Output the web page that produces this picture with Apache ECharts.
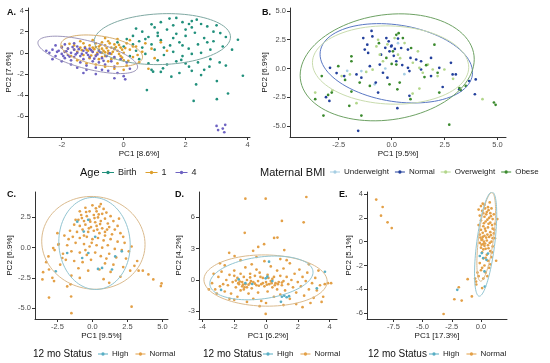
<!DOCTYPE html>
<html><head><meta charset="utf-8">
<script src="https://cdn.jsdelivr.net/npm/echarts@6/dist/echarts.min.js"></script>
<style>html,body{margin:0;padding:0;background:#fff}#c{width:550px;height:363px}</style>
</head><body><div id="c"></div>
<script>
// ---------- DATA ----------
// Panel A (Age)
const aBirth = [[1.48,3.24],[2.36,3.14],[2.11,2.73],[2.5,2.73],[3.12,1.87],[3.69,1.24],[3.85,-2.16],[3.37,-3.84],[3.01,-4.38],[3.01,-2.67],[2.26,-4.54],[0.75,-3.52],[2.34,-2.98],[2.5,-2.1],[2.77,-1.3],[2.11,-1.3],[1.86,-0.67],[0.95,-1.78],[1.27,-1.46],[1.54,-2.25],
[1.2,2.9],[1.6,2.6],[1.9,2.9],[2.2,2.4],[2.7,2.5],[2.9,2.0],[1.0,2.4],[0.6,2.0],[0.3,1.6],[0.1,1.3],[-0.2,1.0],[0.5,1.1],[0.8,1.5],[1.1,1.9],[1.4,2.2],[1.7,1.8],[2.0,1.6],[2.3,1.9],[2.6,1.4],[2.9,1.1],[3.2,0.6],[2.8,0.3],[2.4,0.8],[2.1,0.4],[1.8,1.0],[1.5,0.7],[1.2,1.2],[0.9,0.8],[0.6,0.5],[0.3,0.8],[0.0,0.6],[-0.3,0.4],[0.4,0.2],[0.7,-0.1],[1.0,0.3],[1.3,-0.2],[1.6,0.1],[1.9,-0.3],[2.2,-0.1],[2.5,0.0],[2.8,-0.6],[3.1,-0.9],[2.4,-0.9],[2.0,-1.0],[1.7,-0.8],[1.4,-1.1],[1.1,-0.7],[0.8,-1.0],[0.5,-0.6],[0.2,-0.3],[0.9,-1.6],[1.2,-1.8],[1.8,-1.9],[2.2,-1.7],[2.6,-1.6],[3.3,-1.2],[3.5,0.3],[3.0,2.6],[2.2,3.0],[1.7,3.3],[0.9,2.7],[0.4,2.3],[1.3,0.5],[1.6,1.4],[2.0,2.2],[1.1,1.6],[0.7,1.3],[1.9,0.7],[2.7,1.0],[3.3,1.5]];
const aOne = [[-1.8,0.4],[-1.6,0.7],[-1.5,0.1],[-1.4,0.5],[-1.3,0.9],[-1.3,-0.2],[-1.2,0.3],[-1.1,0.7],[-1.1,-0.5],[-1.0,0.1],[-1.0,0.5],[-0.9,0.9],[-0.9,-0.2],[-0.8,0.3],[-0.8,0.6],[-0.8,-0.6],[-0.7,0.0],[-0.7,1.0],[-0.7,0.4],[-0.6,-0.3],[-0.6,0.7],[-0.5,0.2],[-0.5,-0.8],[-0.5,1.1],[-0.4,0.5],[-0.4,-0.1],[-0.3,0.8],[-0.3,-0.5],[-0.2,0.2],[-0.2,-1.0],[-0.1,0.5],[-0.1,-0.3],[0.0,0.0],[0.0,-0.7],[0.1,0.9],[0.1,-1.2],[0.2,0.3],[0.3,-0.4],[0.4,0.6],[0.5,-0.9],[0.6,0.1],[-1.7,-0.3],[-1.5,-0.7],[-1.2,-1.0],[-0.9,-1.1],[-0.6,-1.3],[-0.3,-1.5],[0.0,-1.6],[-1.9,0.1],[-2.0,0.6],[-1.4,1.1],[-1.0,1.2],[-0.6,1.4],[-0.2,1.3],[0.2,1.2],[0.7,0.9],[0.9,0.4],[1.0,-0.5],[1.2,1.0],[0.8,-1.5],[1.4,0.2],[-1.15,0.2],[-0.95,0.35],[-0.85,0.0],[-0.75,0.75],[-0.65,0.2],[-0.55,0.45],[-0.45,0.9],[-0.35,0.1],[-0.25,0.55],[-0.15,-0.1],[-0.05,0.3],[-1.25,0.55],[-1.35,0.25],[-1.05,-0.25],[-0.9,0.55],[-0.7,-0.4],[-0.4,-0.6],[-0.6,0.05],[-0.3,0.35],[0.3,0.6],[0.05,0.45],[-0.15,0.75],[-0.5,-0.05],[-1.6,0.3],[-1.75,0.85],[0.45,-0.2],[0.15,-0.75],[-0.05,-0.45]];
const aFour = [[-2.4,0.0],[-2.3,0.3],[-2.2,-0.3],[-2.1,0.2],[-2.0,-0.1],[-2.0,0.5],[-1.9,-0.5],[-1.9,0.1],[-1.8,0.4],[-1.8,-0.2],[-1.7,0.0],[-1.7,-0.7],[-1.6,0.3],[-1.6,-0.4],[-1.5,0.0],[-1.5,0.6],[-1.4,-0.3],[-1.4,-0.9],[-1.3,0.2],[-1.3,-0.6],[-1.2,0.0],[-1.2,-1.2],[-1.1,0.4],[-1.1,-0.4],[-1.0,-0.8],[-1.0,0.1],[-0.9,-0.3],[-0.9,-1.4],[-0.8,0.2],[-0.8,-0.9],[-0.7,-0.5],[-0.6,-1.1],[-0.5,-1.7],[-0.4,-0.8],[-0.3,-1.3],[-0.2,-1.9],[0.0,-2.2],[0.2,-1.5],[-2.2,0.7],[-1.9,0.8],[-1.6,0.9],[-2.3,-0.6],[-2.0,-0.8],[-1.7,-1.1],[-1.5,-1.4],[-1.2,-1.6],[-0.9,-2.0],[-1.85,0.15],[-1.75,-0.35],[-1.65,0.55],[-1.55,-0.15],[-1.45,0.35],[-1.35,-0.1],[-1.25,0.45],[-1.15,-0.2],[-1.05,0.25],[-0.95,-0.55],[-0.85,-0.15],[-0.75,0.05],[-0.65,-0.75],[-0.55,-0.3],[-0.45,-0.05],[-1.95,-0.3],[-2.15,0.1],[-2.5,0.2],[-0.3,-0.4],[0.1,-0.9],[-0.1,-0.6],[-1.3,-1.9],[-0.7,-1.6],[3.0,-6.9],[3.05,-7.3],[3.2,-7.15],[3.28,-6.8],[3.25,-7.5],[0.05,-2.5],[-0.3,-2.4]];
// Panel B (Maternal BMI)
const bUnder = [[-1.43,-0.23],[-0.8,-1.38],[0.3,2.2],[-2.1,-0.2],[0.6,-0.5],[-0.3,0.0]];
const bNormal = [[-0.95,3.27],[-0.91,2.79],[-1.34,2.64],[-1.15,2.07],[-1.27,1.64],[-1.11,1.35],[-0.14,2.36],[-0.02,1.92],[-0.1,1.49],[-0.25,2.64],[-2.91,0.06],[-2.24,-0.66],[-1.66,-0.52],[-1.43,-0.8],[-1.03,0.2],[-0.75,-1.23],[-0.64,-2.1],[-2.94,-2.82],[-1.58,-5.42],[-0.41,-0.37],[-0.56,0.34],[0.22,0.63],[0.45,1.78],[0.77,1.64],[0.89,0.92],[1.16,0.78],[1.39,0.63],[0.77,0.06],[0.84,-0.23],[1.86,0.92],[2.25,0.06],[2.8,0.49],[2.88,-0.52],[3.03,-0.52],[3.19,-1.81],[3.66,-1.09],[3.97,-0.95],[3.93,-2.24],[2.41,-1.61],[0.84,-2.38],[0.27,-3.45],[1.39,-0.09],[1.86,-0.66],[0.0,2.0],[0.15,1.7],[-0.3,1.8],[0.3,2.6],[-0.5,1.2],[0.1,1.1],[-3.1,-2.5],[-2.6,-0.4],[-0.2,-0.8],[0.5,0.3]];
const bOver = [[-3.61,-2.1],[-2.36,-0.66],[-1.97,-0.52],[-0.72,1.92],[-0.56,1.2],[-0.41,0.63],[-1.66,-3.02],[0.14,2.64],[-0.64,2.5],[0.61,2.21],[1.24,1.49],[1.71,0.34],[1.94,-0.09],[2.17,-0.66],[1.31,0.06],[1.47,-0.37],[1.31,-1.75],[0.99,-2.18],[4.29,-2.67],[2.49,-0.09],[0.3,1.2],[-0.2,2.1],[0.4,0.9],[-1.2,-0.3],[-2.8,-1.9],[1.0,0.5],[2.9,-0.9],[-0.9,-0.1]];
const bObese = [[-3.3,-0.66],[-3.61,-2.67],[-3.22,-4.1],[-2.83,-2.1],[-2.52,0.2],[-1.9,1.06],[-1.9,0.63],[-1.51,-1.23],[-1.03,-1.52],[-2.0,-3.25],[-1.43,-4.1],[0.22,2.93],[0.06,1.49],[-0.25,0.92],[-1.9,-2.01],[-0.1,-1.38],[0.33,3.07],[0.53,2.64],[2.02,2.07],[0.92,1.78],[1.63,0.29],[2.17,-0.37],[0.38,-1.23],[0.27,-1.81],[0.89,-2.67],[2.25,-2.1],[3.27,-1.9],[3.5,-1.52],[2.72,-4.89],[4.83,-2.96],[4.91,-3.16],[1.55,-0.75],[0.22,0.34],[-0.6,2.2],[0.0,0.4],[-2.2,-1.0],[-3.0,-2.3],[3.2,-1.7]];
// Panel C (12 mo Status)
const cNormal = [[-0.5,3.3],[0.0,3.5],[0.5,3.4],[0.8,3.2],[-0.2,3.0],[0.3,3.0],[0.7,2.8],[1.0,2.9],[-0.8,2.7],[-0.4,2.6],[0.1,2.7],[0.4,2.5],[0.9,2.4],[1.3,2.6],[-1.0,2.3],[-0.6,2.2],[-0.2,2.3],[0.2,2.1],[0.6,2.2],[1.1,2.0],[1.5,2.2],[-1.3,1.9],[-0.9,1.8],[-0.5,1.9],[-0.1,1.7],[0.3,1.8],[0.7,1.6],[1.2,1.7],[1.8,1.8],[-1.6,1.4],[-1.1,1.3],[-0.7,1.5],[-0.3,1.3],[0.1,1.4],[0.5,1.2],[0.9,1.3],[1.4,1.1],[2.0,1.2],[-2.0,1.0],[-1.4,0.9],[-0.9,0.8],[-0.4,0.9],[0.0,0.7],[0.4,0.8],[0.8,0.6],[1.3,0.7],[1.8,0.5],[2.3,0.4],[-2.4,0.3],[-1.8,0.2],[-1.2,0.4],[-0.6,0.3],[-0.2,0.1],[0.3,0.2],[0.7,0.0],[1.1,0.2],[1.6,-0.1],[2.1,-0.2],[2.6,-0.3],[-2.7,-0.2],[-2.1,-0.5],[-1.5,-0.3],[-0.9,-0.4],[-0.4,-0.6],[0.2,-0.4],[0.6,-0.7],[1.2,-0.5],[1.7,-0.8],[2.4,-0.9],[-1.9,-1.0],[-1.3,-1.1],[-0.7,-1.2],[-0.1,-1.0],[0.9,-1.3],[1.5,-1.4],[2.2,-1.6],[-1.0,-1.7],[-0.3,-1.9],[0.5,-1.8],[1.3,-2.0],[2.7,-1.9],[3.0,-1.5],[3.3,-1.9],[-1.5,-2.3],[-0.9,-2.5],[0.8,-2.6],[1.2,-2.9],[-1.8,-3.2],[-1.56,-3.03],[-3.1,-4.12],[-1.52,-4.03],[-1.5,-5.41],[2.8,-4.87],[4.89,-3.17],[4.94,-2.95],[4.35,-2.62],[4.0,-2.21],[-3.57,-2.62],[-3.52,-2.02],[-3.1,-1.8],[-2.86,-2.49],[-2.74,-2.76],[-3.14,-0.72],[-2.8,-0.03],[-2.44,0.25],[-2.15,-0.85],[-2.5,1.2],[-0.45,2.95],[0.25,3.25],[0.15,2.45],[-0.15,2.15],[0.55,1.95],[0.45,2.75],[-0.75,2.45],[1.6,1.5],[2.2,0.9],[2.8,0.1],[3.2,-1.1],[3.6,-1.9],[-0.05,0.4],[0.9,1.0],[-1.7,0.7],[-2.3,-1.4],[-0.5,-0.2],[1.0,-0.9],[-3.3,-1.2],[2.0,-2.4],[-0.6,1.0],[0.35,1.5],[1.05,1.5],[-0.25,1.6],[-1.2,2.3],[1.9,2.4],[-0.9,3.0],[0.6,3.6]];
const cHigh = [[-1.08,2.15],[-0.29,-0.44],[-0.73,-0.85],[0.4,-1.75],[1.4,-1.8],[-1.8,-0.44],[0.69,-1.67],[2.1,-0.3],[1.63,-0.72],[-0.62,1.33],[-2.62,-1.95],[-0.3,2.3],[0.2,0.9]];
// Panel D (12 mo Status)
const dNormal = [[-1.3,7.78],[-0.02,7.78],[2.54,7.94],[1.0,5.65],[2.37,5.52],[-1.34,4.51],[0.51,4.03],[0.72,4.06],[-0.12,3.43],[-0.49,3.17],[-0.81,2.79],[1.15,2.86],[-2.32,2.6],[-1.98,2.29],[-0.02,-3.24],[-3.4,-0.3],[-3.2,-0.9],[-3.0,0.3],[-2.9,-0.6],[-2.8,0.8],[-2.6,-1.1],[-2.5,0.0],[-2.4,-0.5],[-2.3,0.5],[-2.2,-1.3],[-2.1,-0.2],[-2.0,0.9],[-1.9,-0.7],[-1.8,0.2],[-1.8,-1.6],[-1.7,-0.4],[-1.6,0.6],[-1.6,-1.0],[-1.5,-0.2],[-1.5,-0.6],[-1.4,0.3],[-1.4,-0.9],[-1.3,-0.4],[-1.3,1.2],[-1.2,-0.7],[-1.2,0.0],[-1.1,-1.3],[-1.0,-0.3],[-1.0,0.6],[-0.9,-0.8],[-0.9,1.5],[-0.8,-0.2],[-0.8,-1.8],[-0.7,0.4],[-0.6,-0.5],[-0.6,1.0],[-0.5,-0.1],[-0.5,-1.2],[-0.4,0.7],[-0.3,-0.4],[-0.3,-2.0],[-0.2,0.2],[-0.1,-0.6],[-0.1,1.8],[0.0,-0.2],[0.1,0.5],[0.1,-1.1],[0.2,-0.4],[0.3,1.3],[0.3,-0.1],[0.4,-0.7],[0.5,0.3],[0.5,-1.6],[0.6,-0.3],[0.7,0.9],[0.7,-0.9],[0.8,-0.2],[0.9,0.4],[0.9,-1.4],[1.0,-0.5],[1.1,1.1],[1.1,-0.1],[1.2,-1.0],[1.3,0.3],[1.4,-0.4],[1.5,1.6],[1.5,-1.8],[1.6,0.0],[1.7,-0.7],[1.8,0.6],[1.9,-1.2],[2.0,-0.2],[2.1,1.0],[2.2,-0.6],[2.3,0.3],[2.4,-1.5],[2.5,-0.1],[2.6,0.7],[2.7,-0.9],[2.9,-0.3],[3.0,-1.7],[3.1,0.2],[3.2,-1.0],[3.4,-0.5],[3.6,-1.6],[3.7,-0.4],[3.9,-0.3],[4.1,-0.3],[3.5,-2.1],[2.8,-2.2],[1.9,-2.3],[0.0,-2.2],[-1.2,-2.1],[-2.3,-1.8],[-3.1,-1.3],[-3.3,0.6],[-2.6,1.4],[-1.6,1.9],[-1.9,-0.05],[-1.75,-0.3],[-1.65,-0.15],[-1.45,-0.45],[-1.35,-0.7],[-1.1,-0.45],[-0.95,-0.1],[-0.7,-0.35],[-0.45,-0.55],[-0.2,-0.3],[0.05,-0.45],[0.35,-0.3],[0.55,-0.5],[0.75,-0.4],[1.0,-0.25],[0.4,0.1],[0.15,0.2],[-0.35,0.3],[-1.0,0.25],[-2.0,0.4],[-2.7,-0.4],[1.3,1.9],[2.7,1.5],[3.3,0.9],[-0.6,2.2],[0.9,2.0],[-2.9,1.6],[-3.6,-0.9],[-2.0,-1.9],[-0.4,-2.5],[1.1,-2.4],[2.3,-2.6]];
const dHigh = [[0.19,1.75],[-0.02,0.16],[0.08,0.32],[-0.87,-0.38],[-1.72,0.06],[3.71,0.79],[0.94,-2.09],[-2.83,-0.95],[1.0,-1.6],[1.15,-1.5],[1.3,-1.65],[1.45,-1.55],[0.4,-0.1],[-1.3,-0.3],[3.2,-0.8]];
// Panel E (12 mo Status)
const eNormal = [[-8.97,3.54],[-8.42,2.92],[-8.56,2.19],[-8.0,1.63],[-7.64,1.15],[-3.2,-6.08],[-2.28,-4.84],[-1.65,-4.95],[-1.9,-3.83],[-1.14,-3.15],[-0.78,-4.6],[-0.42,-3.35],[0.0,3.0],[0.3,3.1],[0.6,2.9],[0.9,2.8],[0.1,2.6],[0.5,2.5],[0.8,2.4],[1.1,2.3],[-0.1,2.2],[0.3,2.1],[0.7,2.0],[1.0,1.9],[0.0,1.8],[0.4,1.7],[0.8,1.6],[1.2,1.5],[-0.2,1.4],[0.2,1.3],[0.6,1.2],[1.0,1.1],[0.0,1.0],[0.4,0.9],[0.8,0.8],[1.1,0.7],[-0.1,0.6],[0.3,0.5],[0.7,0.4],[1.0,0.3],[0.1,0.2],[0.5,0.1],[0.9,0.0],[-0.1,-0.1],[0.2,-0.2],[0.6,-0.3],[1.0,-0.4],[0.0,-0.5],[0.4,-0.6],[0.8,-0.8],[0.1,-0.9],[0.5,-1.1],[0.9,-1.3],[0.2,-1.4],[0.6,-1.6],[-0.1,-1.8],[0.3,-2.0],[0.7,-2.2],[0.0,-2.4],[0.4,-2.6],[-0.2,-2.9],[0.2,-3.1],[-0.4,-3.6],[0.1,-3.9],[0.15,0.4],[0.25,0.0],[0.35,-0.15],[0.05,0.15],[0.45,0.35],[0.55,0.6],[0.15,0.75],[0.35,1.1],[0.65,1.5],[0.25,1.55],[0.55,1.85],[0.85,2.15],[0.45,2.3],[0.2,2.4],[0.65,2.65],[0.35,2.8],[0.15,3.2],[0.75,3.3],[0.95,1.4],[1.15,1.0],[0.85,0.55],[0.75,-0.1],[0.95,-0.9],[0.3,-0.35],[0.05,-0.25],[-0.05,0.35],[0.2,-0.65],[0.65,-0.55],[0.4,-1.35],[0.8,-1.9],[0.1,-2.2],[-0.3,-2.6],[0.55,-2.9],[-0.5,-3.1],[1.2,0.3],[1.3,-1.6],[1.4,1.9],[-0.2,2.7]];
const eHigh = [[-2.03,-4.05],[0.33,-3.77],[0.19,-1.38],[0.47,-1.52],[0.07,-0.96],[0.6,-1.0],[-0.1,-1.2],[0.3,-2.5]];

// Ellipses: [centerX, centerY, halfWidthX, halfHeightY, tiltY]
const ellA = {Birth:[1.25,1.3,2.2,2.4,0.2], One:[-0.71,0.19,1.32,1.39,-0.57], Four:[-1.16,-0.19,1.61,1.35,-1.14]};
const ellB = {Normal:[0.22,0.45,3.6,3.36,-0.79], Over:[-0.05,0.3,3.69,3.4,-0.2], Obese:[-0.21,0.1,4.11,4.6,0.7]};
const ellC = {Normal:[0.07,0.4,3.69,3.83,-0.14], High:[0.15,0.35,2.55,3.8,-0.14]};
const ellD = {Normal:[-0.03,-0.05,3.88,2.45,-0.08], High:[-0.29,0.2,3.25,2.02,0.55]};
const ellE = {Normal:[0.45,0.4,0.8,3.0,2.2], High:[0.4,-0.2,0.95,3.6,2.5]};

// Tick values
const ticksAx = [-2,0,2,4], ticksAy = [-6,-4,-2,0,2,4];
const ticksBx = [-2.5,0,2.5,5], ticksBy = [-5,-2.5,0,2.5,5];
const ticksCx = [-2.5,0,2.5,5], ticksCy = [-5,-2.5,0,2.5];
const ticksDx = [-4,-2,0,2,4], ticksDy = [-3,0,3,6];
const ticksEx = [-7.5,-5,-2.5,0], ticksEy = [-6,-4,-2,0,2,4];

// ---------- CHART ----------
const FONT = 'Liberation Sans, Arial, sans-serif';
const col = {birth:'#21907c', one:'#dd9f2c', four:'#6e63c2',
  under:'#a6cee3', normal:'#23409c', over:'#b2d68a', obese:'#3b8a2e',
  high:'#58aec4', norm:'#e3a047'};
const ecol = {birth:'#7fa9a3', one:'#d6ae70', four:'#9d96bb', normal:'#5a78c4', over:'#c9dcae', obese:'#6ea264', high:'#92c5d2', norm:'#dbbb8e'};

const grids = [
  {left:28, top:8, width:222, height:129},
  {left:290, top:8, width:216, height:129},
  {left:35, top:192, width:133, height:127},
  {left:199, top:192, width:138, height:127},
  {left:367, top:192, width:140, height:127}
];
function f1(v){ return v.toFixed(1); }
function f0(v){ return String(v); }
function xAx(g, min, max, ticks, name, fmt){
  return {type:'value', gridIndex:g, min, max, name, nameLocation:'middle', nameGap:12,
    nameTextStyle:{fontSize:8, color:'#111', fontFamily:FONT},
    axisLine:{show:true, onZero:false, lineStyle:{color:'#333', width:1}},
    axisTick:{show:true, length:3, customValues:ticks, lineStyle:{color:'#333'}},
    axisLabel:{customValues:ticks, formatter:fmt, color:'#4d4d4d', fontSize:7.5, margin:4, fontFamily:FONT},
    splitLine:{show:false}};
}
function yAx(g, min, max, ticks, name, fmt, gap){
  return {type:'value', gridIndex:g, min, max, name, nameLocation:'middle', nameGap:gap,
    nameTextStyle:{fontSize:8, color:'#111', fontFamily:FONT},
    axisLine:{show:true, onZero:false, lineStyle:{color:'#333', width:1}},
    axisTick:{show:true, length:3, customValues:ticks, lineStyle:{color:'#333'}},
    axisLabel:{customValues:ticks, formatter:fmt, color:'#4d4d4d', fontSize:7.5, margin:4, fontFamily:FONT},
    splitLine:{show:false}};
}
const xAxis = [
  xAx(0,-3.09,4.08,ticksAx,'PC1 [8.6%]',f0),
  xAx(1,-4.8,5.4,ticksBx,'PC1 [9.5%]',f1),
  xAx(2,-4.1,5.4,ticksCx,'PC1 [9.5%]',f1),
  xAx(3,-4.22,4.47,ticksDx,'PC1 [6.2%]',f0),
  xAx(4,-9.76,2.23,ticksEx,'PC1 [17.3%]',f1)
];
const yAxis = [
  yAx(0,-7.95,4.24,ticksAy,'PC2 [7.6%]',f0,15),
  yAx(1,-5.96,5.26,ticksBy,'PC2 [6.9%]',f1,20),
  yAx(2,-5.89,4.6,ticksCy,'PC2 [6.9%]',f1,20),
  yAx(3,-3.73,8.42,ticksDy,'PC2 [4.2%]',f0,16),
  yAx(4,-6.5,4.18,ticksEy,'PC2 [5.1%]',f0,13)
];

function sc(name, g, data, color){
  return {type:'scatter', name, xAxisIndex:g, yAxisIndex:g, data, symbolSize:2.7,
    itemStyle:{color, opacity:1}, silent:true, animation:false};
}
function renderEllipse(params, api){
  const cx=api.value(0), cy=api.value(1), a=api.value(2), b=api.value(3), k=api.value(4);
  const pts=[];
  for(let i=0;i<=96;i++){
    const t=i/96*Math.PI*2;
    pts.push(api.coord([cx+a*Math.cos(t), cy+b*Math.sin(t)+k*Math.cos(t)]));
  }
  return {type:'polyline', shape:{points:pts}, style:{fill:null, stroke:api.visual('color'), lineWidth:1}};
}
function el(name, g, p, color){
  return {type:'custom', name, xAxisIndex:g, yAxisIndex:g, data:[p], renderItem:renderEllipse,
    itemStyle:{color}, clip:true, silent:true, animation:false, z:3};
}
const series = [
  sc('Birth',0,aBirth,col.birth), sc('1',0,aOne,col.one), sc('4',0,aFour,col.four),
  sc('Underweight',1,bUnder,col.under), sc('BMI Normal',1,bNormal,col.normal), sc('Overweight',1,bOver,col.over), sc('Obese',1,bObese,col.obese),
  sc('Normal',2,cNormal,col.norm), sc('High',2,cHigh,col.high),
  sc('Normal',3,dNormal,col.norm), sc('High',3,dHigh,col.high),
  sc('Normal',4,eNormal,col.norm), sc('High',4,eHigh,col.high),
  el('Birth',0,ellA.Birth,ecol.birth), el('1',0,ellA.One,ecol.one), el('4',0,ellA.Four,ecol.four),
  el('BMI Normal',1,ellB.Normal,ecol.normal), el('Overweight',1,ellB.Over,ecol.over), el('Obese',1,ellB.Obese,ecol.obese),
  el('Normal',2,ellC.Normal,ecol.norm), el('High',2,ellC.High,ecol.high),
  el('Normal',3,ellD.Normal,ecol.norm), el('High',3,ellD.High,ecol.high),
  el('Normal',4,ellE.Normal,ecol.norm), el('High',4,ellE.High,ecol.high)
];

const glyph12 = 'path://M0,1.3H12V2.1H0Z M6,0A1.7,1.7 0 1 1 5.99,0Z';
const glyph10 = 'path://M0,1.3H10V2.1H0Z M5,0A1.7,1.7 0 1 1 4.99,0Z';
function lg(data, left, top, fs, gap, iw, fmt){
  const o = {data, left, top, width:260, icon: iw===12?glyph12:glyph10, itemWidth:iw, itemHeight:3.4, itemGap:gap,
    textStyle:{fontSize:fs, color:'#222', fontFamily:FONT, padding:[0,0,0,-1]}, selectedMode:false, padding:0};
  if(fmt) o.formatter = fmt;
  return o;
}
const legend = [
  lg(['Birth','1','4'],102,168,9,9,12),
  lg(['Underweight','BMI Normal','Overweight','Obese'],330,168,8,6,10,n=>n.replace('BMI ','')),
  lg(['High','Normal'],98,350,8,7,10),
  lg(['High','Normal'],263,350,8,7,10),
  lg(['High','Normal'],429,350,8,7,10)
];

function txt(x,y,t,size,bold){
  return {type:'text', x, y, silent:true, style:{text:t, fontSize:size, fontWeight:bold?'bold':'normal', fontFamily:FONT, fill:'#111', verticalAlign:'middle', align:'left'}};
}
const graphic = [
  txt(7,12.7,'A.',9,true), txt(262,12.7,'B.',9,true),
  txt(7,195,'C.',9,true), txt(175,195,'D.',9,true), txt(339,195,'E.',9,true),
  txt(80,173,'Age',11), txt(260,173,'Maternal BMI',11),
  txt(33,354,'12 mo Status',10), txt(203,354,'12 mo Status',10), txt(368,354,'12 mo Status',10)
];

const chart = echarts.init(document.getElementById('c'), null, {renderer:'canvas'});
chart.setOption({animation:false, backgroundColor:'#fff', grid:grids, xAxis, yAxis, series, legend, graphic});
</script></body></html>
